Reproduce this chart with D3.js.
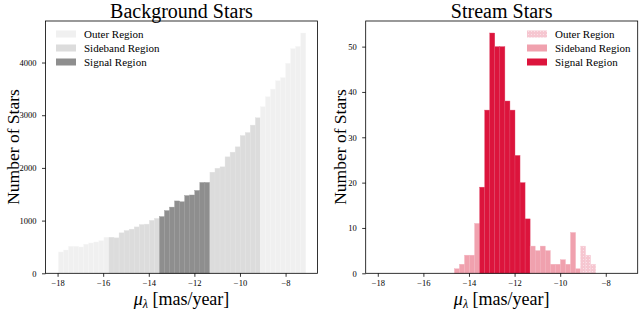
<!DOCTYPE html>
<html lang="en">
<head>
<meta charset="UTF-8">
<title>Background and Stream Stars</title>
<script src="https://cdn.jsdelivr.net/npm/d3@7"></script>
<style>
  body { margin: 0; background: #fff; }
  text { font-family: "Liberation Serif", "DejaVu Serif", serif; fill: #000; }
</style>
</head>
<body>
<script type="text/javascript">
  // canvas
  var w = 640;
  var h = 311;

  // histogram bins (same bins in both panels)
  var binStart = -17.96;
  var binWidth = 0.2214;
  // bin index where regions change: outer | sideband | signal | sideband | outer
  var regionBreaks = [10, 20, 30, 40];
  var regionNames = ["Outer Region", "Sideband Region", "Signal Region"];

  var backgroundCounts = [
    405, 442, 512, 512, 500, 553, 575, 595, 617, 684,
    685, 672, 768, 812, 838, 880, 925, 933, 1005, 1042,
    1076, 1190, 1256, 1373, 1357, 1475, 1486, 1572, 1724, 1724,
    1919, 1994, 2020, 2210, 2299, 2400, 2615, 2671, 2812, 2951,
    3160, 3350, 3496, 3654, 3711, 3983, 4262, 4306, 4560
  ];
  var streamCounts = [
    0, 0, 0, 0, 0, 0, 0, 0, 0, 0,
    0, 0, 0, 0, 0, 1, 2, 4, 4, 11,
    19, 36, 53, 50, 50, 38, 36, 26, 20, 12,
    6, 5, 6, 5, 2, 2, 3, 2, 9, 1,
    6, 4, 2, 0, 0, 0, 0, 0, 0
  ];

  var xTicks = [-18, -16, -14, -12, -10, -8];
  var bgTicks = [0, 1000, 2000, 3000, 4000];
  var streamTicks = [0, 10, 20, 30, 40, 50];

  function regionOf(i) {
    if (i >= regionBreaks[1] && i < regionBreaks[2]) return 2;
    if (i >= regionBreaks[0] && i < regionBreaks[3]) return 1;
    return 0;
  }

  var svg = d3.select("body").append("svg")
    .attr("width", w)
    .attr("height", h);

  // dotted hatch for the outer stream region
  var pat = svg.append("defs").append("pattern")
    .attr("id", "dots")
    .attr("width", 3).attr("height", 3)
    .attr("patternUnits", "userSpaceOnUse");
  pat.append("rect").attr("width", 3).attr("height", 3).attr("fill", "#f6c6d0");
  pat.append("circle").attr("cx", 1.5).attr("cy", 1.5).attr("r", 0.6).attr("fill", "#fbe6eb");

  function drawPanel(opt) {
    var x = d3.scaleLinear().domain([-18.53, -6.60]).range([opt.left, opt.left + 272]);
    var maxC = d3.max(opt.counts);
    var y = d3.scaleLinear().domain([0, maxC * 1.05]).range([273.3, 21]);

    var g = svg.append("g");

    var bins = opt.counts.map(function(c, i) {
      return { i: i, c: c, x0: binStart + i * binWidth, x1: binStart + (i + 1) * binWidth };
    });

    g.selectAll("rect.bar")
      .data(bins.filter(function(d) { return d.c > 0; }))
      .enter()
      .append("rect")
      .attr("class", "bar")
      .attr("x", function(d) { return x(d.x0); })
      .attr("y", function(d) { return y(d.c); })
      .attr("width", function(d) { return x(d.x1) - x(d.x0); })
      .attr("height", function(d) { return y(0) - y(d.c); })
      .attr("fill", function(d) { return opt.colors[regionOf(d.i)]; })
      .attr("stroke", function(d) { return opt.edges[regionOf(d.i)]; })
      .attr("stroke-width", 0.4);

    // axes box
    g.append("rect")
      .attr("x", opt.left).attr("y", 21)
      .attr("width", 272).attr("height", 252.3)
      .attr("fill", "none").attr("stroke", "#000").attr("stroke-width", 0.8);

    var xAxis = g.append("g")
      .attr("transform", "translate(0,273.3)")
      .call(d3.axisBottom(x).tickValues(xTicks).tickSize(3.5).tickPadding(3.5)
        .tickFormat(function(d) { return d < 0 ? "\u2212" + Math.abs(d) : d; }));
    var yAxis = g.append("g")
      .attr("transform", "translate(" + opt.left + ",0)")
      .call(d3.axisLeft(y).tickValues(opt.ticks).tickSize(3.5).tickPadding(5.5)
        .tickFormat(d3.format("d")));
    [xAxis, yAxis].forEach(function(a) {
      a.select(".domain").remove();
      a.selectAll("line").attr("stroke", "#000").attr("stroke-width", 0.8);
      a.selectAll("text").attr("font-family", "Liberation Serif").attr("font-size", 8.5).attr("fill", "#000");
    });

    // title
    g.append("text")
      .attr("x", opt.left + 136).attr("y", 18)
      .attr("text-anchor", "middle")
      .attr("font-size", 20)
      .text(opt.title);

    // axis labels
    var xl = g.append("text")
      .attr("x", opt.left + 136).attr("y", 305)
      .attr("text-anchor", "middle")
      .attr("font-size", 18);
    xl.append("tspan").attr("font-style", "italic").text("\u03bc");
    xl.append("tspan").attr("font-style", "italic").attr("font-size", 12).attr("dy", 3).text("\u03bb");
    xl.append("tspan").attr("dy", -3).text(" [mas/year]");

    g.append("text")
      .attr("transform", "translate(" + (opt.left - opt.labelGap) + ",147) rotate(-90)")
      .attr("text-anchor", "middle")
      .attr("font-size", 17.5)
      .text("Number of Stars");

    // legend
    var lg = g.append("g").attr("transform", "translate(" + opt.legendX + ",0)");
    regionNames.forEach(function(name, k) {
      var yy = 34 + k * 14;
      lg.append("rect")
        .attr("x", 0).attr("y", yy - 3.5)
        .attr("width", 20).attr("height", 7)
        .attr("fill", opt.colors[k]);
      lg.append("text")
        .attr("x", 28).attr("y", yy + 3.5)
        .attr("font-size", 11)
        .text(name);
    });
  }

  drawPanel({
    left: 45.5,
    counts: backgroundCounts,
    ticks: bgTicks,
    title: "Background Stars",
    colors: ["#f0f0f0", "#dcdcdc", "#8e8e8e"],
    edges: ["#f6f6f6", "#e3e3e3", "#999999"],
    legendX: 56,
    labelGap: 26.5
  });

  drawPanel({
    left: 365.7,
    counts: streamCounts,
    ticks: streamTicks,
    title: "Stream Stars",
    colors: ["url(#dots)", "#f0a1ae", "#dc143c"],
    edges: ["#f8d3db", "#f3b3bf", "#e14a6a"],
    legendX: 527,
    labelGap: 20
  });
</script>
</body>
</html>
